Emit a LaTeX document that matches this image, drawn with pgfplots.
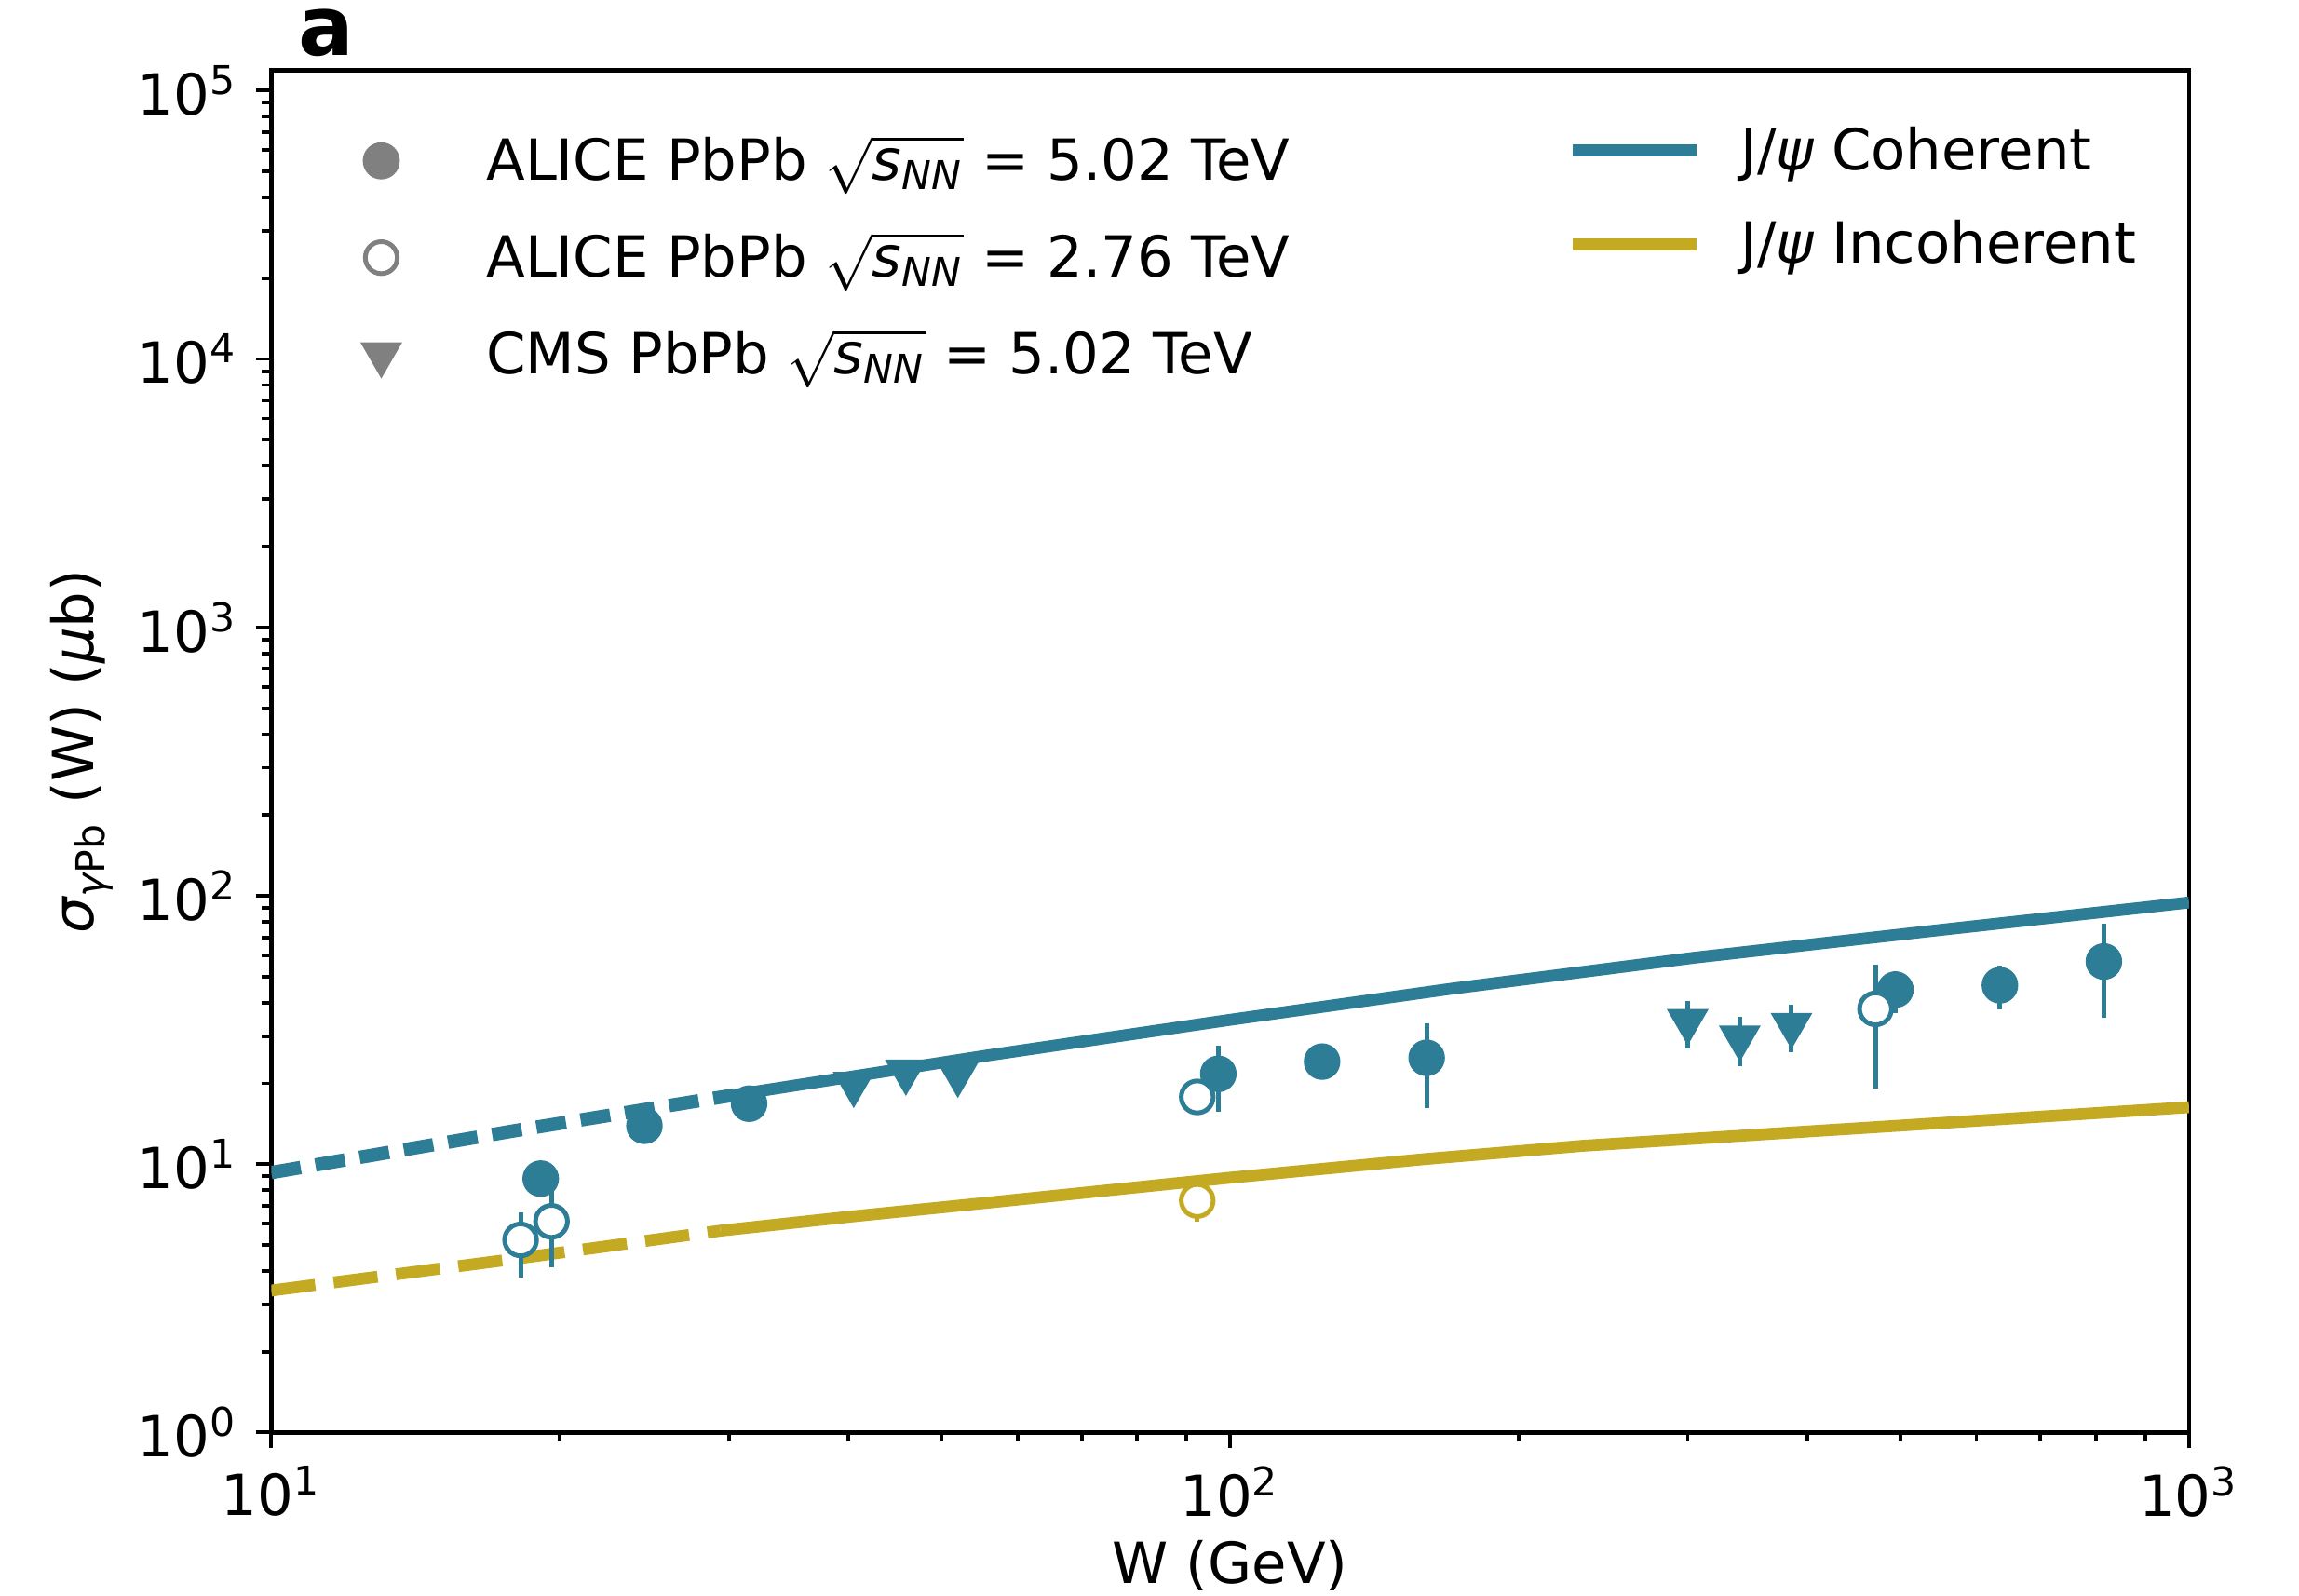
\documentclass[border=0pt]{standalone}
\usepackage{pgfplots}
\pgfplotsset{compat=1.18}
\usepackage{pgfplotstable}
\usepackage{amsmath}
\usepackage{fontspec}
\setmainfont{DejaVu Sans}

\definecolor{cohc}{RGB}{46,125,150}
\definecolor{incc}{RGB}{196,170,35}
\definecolor{leggray}{RGB}{128,128,128}

\newcommand{\snn}{$\sqrt{\text{\itshape s}_{\text{\itshape NN}}}$}

% ALICE PbPb 5.02 TeV, coherent
\pgfplotstableread{
x y ep em
19.1 8.83 0.3 0.3
24.5 13.9 0.4 0.4
31.5 16.8 0.4 0.4
97.2 21.7 6.0 6.0
124.7 24.1 0.5 0.5
160.3 24.9 8.6 8.7
494 44.7 7.5 8.2
635 46.4 8.4 8.6
815 56.9 21.8 21.8
}\alicefive

% ALICE PbPb 2.76 TeV, coherent
\pgfplotstableread{
x y ep em
18.2 5.22 1.41 1.43
19.6 6.12 1.9 2.0
92.4 17.8 0.4 0.4
471 37.9 17.6 18.7
}\alicetwocoh

% ALICE PbPb 2.76 TeV, incoherent
\pgfplotstableread{
x y ep em
92.4 7.32 0.4 1.2
}\alicetwoinc

% CMS PbPb 5.02 TeV
\pgfplotstableread{
x y ep em
40.5 19.9 0.5 0.5
45.9 22.1 0.5 0.5
52.0 21.7 0.5 0.5
300 34.1 6.5 7.2
340 29.6 5.9 6.4
385 33.0 6.2 6.8
}\cms

\pgfplotsset{
  errs/.style={only marks, mark=none, forget plot,
    error bars/.cd, y dir=both, y explicit, error mark=none,
    error bar style={draw=#1, line width=0.9pt, solid}},
  tri/.style={mark=triangle*, mark size=4.4pt,
    mark options={rotate=180, draw=#1, fill=#1, line width=0.3pt}},
}

\begin{document}
\begin{tikzpicture}[font=\fontsize{11}{13}\selectfont]
\path[use as bounding box] (-1.85,-1.11) rectangle (13.83,9.77);

\begin{axis}[
    scale only axis,
    width=13.08cm, height=9.29cm,
    xmode=log, ymode=log,
    xmin=10, xmax=1000, ymin=1, ymax=1.19e5,
    xtick={10,100,1000},
    xticklabels={10\textsuperscript{1},10\textsuperscript{2},10\textsuperscript{3}},
    ytick={1,10,100,1000,10000,100000},
    yticklabels={10\textsuperscript{0},10\textsuperscript{1},10\textsuperscript{2},10\textsuperscript{3},10\textsuperscript{4},10\textsuperscript{5}},
    minor xtick={20,30,40,50,60,70,80,90,200,300,400,500,600,700,800,900},
    minor ytick={2,3,4,5,6,7,8,9,20,30,40,50,60,70,80,90,200,300,400,500,600,700,800,900,
                 2000,3000,4000,5000,6000,7000,8000,9000,20000,30000,40000,50000,60000,70000,80000,90000},
    tick align=outside,
    xtick pos=left, ytick pos=left,
    major tick length=3pt, minor tick length=1.8pt,
    every tick/.style={black, line width=0.7pt},
    axis line style={line width=0.8pt},
    xlabel={W (GeV)},
    ylabel={{\itshape σ}\textsubscript{{\itshape γ}Pb} (W) ({\itshape μ}b)},
    every axis x label/.style={at={(axis description cs:0.5,-0.111)}, anchor=base},
    every axis y label/.style={at={(axis description cs:-0.0925,0.5)}, rotate=90, anchor=base},
    legend style={draw=none, fill=none, inner sep=0pt,
        at={(axis description cs:0.0466,0.9634)}, anchor=north west,
        row sep=0.12cm,
        nodes={inner sep=0pt, text height=0.40cm, text depth=0.14cm},
        /tikz/every odd column/.append style={column sep=0.13cm}},
    legend cell align=left,
    legend image code/.code={\path (0cm,0cm) (0.58cm,0cm); \draw[#1] plot coordinates {(0cm,0cm)};},
]

\addlegendimage{only marks, mark=*, mark size=3.4pt, leggray}
\addlegendentry{ALICE PbPb \snn{} = 5.02 TeV}
\addlegendimage{only marks, mark=*, mark size=3.1pt, mark options={draw=leggray, fill=white, line width=0.9pt}}
\addlegendentry{ALICE PbPb \snn{} = 2.76 TeV}
\addlegendimage{only marks, tri=leggray}
\addlegendentry{CMS PbPb \snn{} = 5.02 TeV}

% model curves
\addplot[cohc, line width=2.6pt, dash pattern=on 5.8pt off 2.9pt, forget plot]
    coordinates {(10,9.3) (17.9,13.3) (30.4,18.1)};
\addplot[cohc, line width=2.3pt, forget plot]
    coordinates {(30.4,18.1) (55.8,25.4) (100,34.5) (170.6,45.1) (305,58.8) (558,75) (1000,94.4)};
\addplot[incc, line width=2.3pt, dash pattern=on 8.6pt off 3.6pt, forget plot]
    coordinates {(10,3.38) (17.9,4.43) (29.4,5.65)};
\addplot[incc, line width=2.3pt, forget plot]
    coordinates {(29.4,5.65) (40.6,6.4) (55.8,7.18) (100,8.9) (160,10.45) (233,11.7) (1000,16.3)};

% error bars
\addplot[errs=cohc] table[x=x, y=y, y error plus=ep, y error minus=em] {\alicefive};
\addplot[errs=cohc] table[x=x, y=y, y error plus=ep, y error minus=em] {\alicetwocoh};
\addplot[errs=incc] table[x=x, y=y, y error plus=ep, y error minus=em] {\alicetwoinc};
\addplot[errs=cohc] table[x=x, y=y, y error plus=ep, y error minus=em] {\cms};

% markers
\addplot[only marks, forget plot, mark=*, mark size=3.4pt, mark options={draw=cohc, fill=cohc, line width=0.3pt}]
    table[x=x, y=y] {\alicefive};
\addplot[only marks, forget plot, mark=*, mark size=3.1pt, mark options={draw=cohc, fill=white, line width=0.9pt}]
    table[x=x, y=y] {\alicetwocoh};
\addplot[only marks, forget plot, mark=*, mark size=3.1pt, mark options={draw=incc, fill=white, line width=0.9pt}]
    table[x=x, y=y] {\alicetwoinc};
\addplot[only marks, forget plot, tri=cohc]
    table[x=x, y=y] {\cms};
\end{axis}

% legend for the model curves
\begin{axis}[
    scale only axis,
    width=13.08cm, height=9.29cm,
    hide axis,
    xmin=0, xmax=1, ymin=0, ymax=1,
    legend style={draw=none, fill=none, inner sep=0pt,
        at={(axis description cs:0.675,0.971)}, anchor=north west,
        row sep=0.10cm,
        nodes={inner sep=0pt, text height=0.40cm, text depth=0.14cm},
        /tikz/every odd column/.append style={column sep=0.26cm}},
    legend cell align=left,
    legend image code/.code={\draw[#1] (0cm,0cm) -- (0.84cm,0cm);},
]
\addlegendimage{cohc, line width=2.4pt}
\addlegendentry{J/{\itshape ψ} Coherent}
\addlegendimage{incc, line width=2.4pt}
\addlegendentry{J/{\itshape ψ} Incoherent}
\end{axis}

\node[anchor=base west, font=\bfseries\fontsize{16}{19}\selectfont] at (0.06,9.39) {a};
\end{tikzpicture}
\end{document}
